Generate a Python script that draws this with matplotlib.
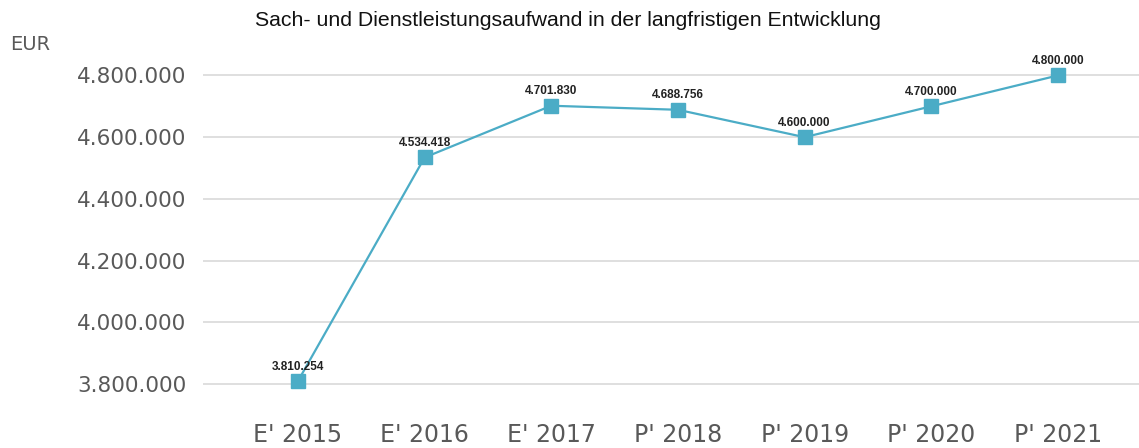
import matplotlib
matplotlib.use("Agg")
import matplotlib.pyplot as plt
from matplotlib.ticker import FuncFormatter

categories = ["E' 2015", "E' 2016", "E' 2017", "P' 2018", "P' 2019", "P' 2020", "P' 2021"]
values = [3810254, 4534418, 4701830, 4688756, 4600000, 4700000, 4800000]
yticks = [3800000, 4000000, 4200000, 4400000, 4600000, 4800000]

def fmt(v):
    return f"{int(round(v)):,}".replace(",", ".")

plt.rcParams['font.family'] = ['DejaVu Sans']
fig = plt.figure(figsize=(11.39, 4.48), dpi=100)
ax = fig.add_axes([203/1139, 1 - 395/448, (1139-203)/1139, (395-60)/448])

x = list(range(len(categories)))
ax.plot(x, values, color='#4BACC6', lw=1.6, marker='s', markersize=10,
        markerfacecolor='#4BACC6', markeredgecolor='#4BACC6', zorder=3)
for xi, v in zip(x, values):
    ax.annotate(fmt(v), (xi, v), xytext=(0, 6), textcoords='offset points',
                ha='center', va='bottom', fontsize=8.5, fontweight='bold', color='#222222',
                family=['Liberation Sans', 'DejaVu Sans'])

ax.set_xlim(-0.75, 6.64)
ax.set_ylim(3765000, 4850000)
ax.set_yticks(yticks)
ax.yaxis.set_major_formatter(FuncFormatter(lambda v, p: fmt(v)))
ax.set_xticks(x)
ax.set_xticklabels(categories)
ax.grid(axis='y', color='#D9D9D9', lw=1.2)
ax.set_axisbelow(True)
for s in ax.spines.values():
    s.set_visible(False)
ax.tick_params(axis='y', length=0, labelsize=15.5, colors='#595959', pad=12)
ax.tick_params(axis='x', length=0, labelsize=17, colors='#595959', pad=20)

fig.text(568/1139, 1 - 20/448, "Sach- und Dienstleistungsaufwand in der langfristigen Entwicklung",
         ha='center', va='center', fontsize=15.3, color='#111111',
         family=['Liberation Sans', 'DejaVu Sans'])
fig.text(10/1139, 1 - 45/448, "EUR", ha='left', va='center', fontsize=14, color='#595959')

fig.savefig("out.png", dpi=100)
